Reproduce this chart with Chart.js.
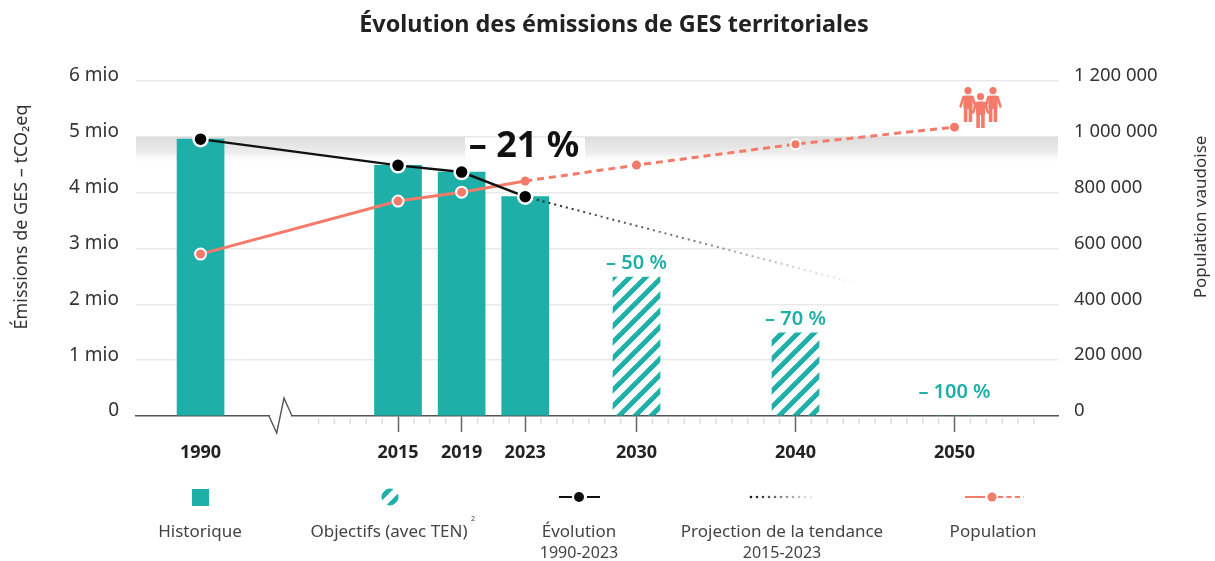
<!DOCTYPE html>
<html><head><meta charset="utf-8">
<style>html,body{margin:0;padding:0;background:#fff}canvas{display:block}</style>
<script src="https://cdn.jsdelivr.net/npm/chart.js@4"></script>
</head><body><canvas id="c" width="1215" height="561"></canvas>
<script>
const chartTitle = "Évolution des émissions de GES territoriales";
const histYears = [1990, 2015, 2019, 2023];
const histValues = [4960000, 4490000, 4370000, 3930000];
const targetYears = [2030, 2040, 2050];
const targetValues = [2490000, 1490000, 0];
const targetLabels = ["– 50 %", "– 70 %", "– 100 %"];
const projYears = [2023, 2043.5];
const projValues = [3930000, 2400000];
const popYears = [1990, 2015, 2019, 2023];
const popValues = [580000, 770000, 802000, 842000];
const popFutureYears = [2023, 2030, 2040, 2050];
const popFutureValues = [842000, 899000, 974000, 1035000];
const labelledYears = [1990, 2015, 2019, 2023, 2030, 2040, 2050];
const minorYears = [2010,2011,2012,2013,2014,2016,2017,2018,2020,2021,2022,2024,2025,2026,2027,2028,2029,2031,2032,2033,2034,2035,2036,2037,2038,2039,2041,2042,2043,2044,2045,2046,2047,2048,2049,2051,2052,2053,2054,2055];
const legendItems = [["Historique"],["Objectifs (avec TEN)"],["Évolution","1990-2023"],["Projection de la tendance","2015-2023"],["Population"]];

const FONT = '"Noto Sans", sans-serif';
const TEAL = '#1fafa9', SALMON = '#f47a69', INK = '#333333';
const BREAK_SHIFT = 12.58;                       // the axis is cut between 1990 and 2010
const pos = y => y < 2000 ? y + BREAK_SHIFT : y;
const unpos = v => v < 2005 ? Math.round(v - BREAK_SHIFT) : v;
const xy = (xs, ys) => xs.map((x, i) => ({x: pos(x), y: ys[i]}));

function hatch(){
  const t = document.createElement('canvas'); t.width = t.height = 16;
  const g = t.getContext('2d'); g.strokeStyle = TEAL; g.lineWidth = 5;
  [[-4,-1,-1,-4],[-2,13,13,-2],[9,18,18,9]].forEach(l=>{g.beginPath();g.moveTo(l[0],l[1]);g.lineTo(l[2],l[3]);g.stroke();});
  return document.getElementById('c').getContext('2d').createPattern(t,'repeat');
}
const hatchFill = hatch();

function person(c, cx, top, s){
  c.save(); c.translate(cx, top); c.scale(s, s);
  c.fillStyle = SALMON; c.strokeStyle = SALMON; c.lineCap = 'round';
  c.beginPath(); c.arc(0, 3.6, 3.6, 0, 7); c.fill();
  c.beginPath(); c.roundRect(-4.6, 8.4, 9.2, 13.5, 2); c.fill();
  c.fillRect(-4.2, 20, 3.6, 15); c.fillRect(0.6, 20, 3.6, 15);
  c.lineWidth = 2.6;
  c.beginPath(); c.moveTo(-4.6, 10); c.lineTo(-7.4, 19.5); c.moveTo(4.6, 10); c.lineTo(7.4, 19.5); c.stroke();
  c.restore();
}
function vText(c, s, x, y, font){
  c.save(); c.translate(x, y); c.rotate(-Math.PI/2);
  c.font = font; c.fillStyle = INK; c.textAlign = 'center'; c.textBaseline = 'middle';
  c.fillText(s, 0, 0); c.restore();
}

const backdrop = {
  id: 'backdrop',
  beforeDatasetsDraw(ch){
    const c = ch.ctx, a = ch.chartArea, y = ch.scales.y, x = ch.scales.x;
    const top = y.getPixelForValue(5000000), bot = y.getPixelForValue(4520000);
    const g = c.createLinearGradient(0, top, 0, bot);
    g.addColorStop(0, '#dcdcdc'); g.addColorStop(0.6,'#eeeeee'); g.addColorStop(1, 'rgba(255,255,255,0)');
    c.save(); c.fillStyle = g;
    c.fillRect(a.left, top, 329, bot-top);
    c.fillRect(585, top, a.right-585, bot-top);
    // minor year ticks
    c.strokeStyle = '#dddddd'; c.lineWidth = 1.5;
    minorYears.forEach(v=>{const p=x.getPixelForValue(v);c.beginPath();c.moveTo(p,a.bottom+2);c.lineTo(p,a.bottom+8);c.stroke();});
    c.restore();
  }
};
const overlay = {
  id: 'overlay',
  afterDatasetsDraw(ch){
    const c = ch.ctx, a = ch.chartArea;
    c.save();
    // axis break
    c.fillStyle='#fff'; c.fillRect(270, a.bottom-1.5, 21, 3);
    c.strokeStyle = '#555'; c.lineWidth = 1.4; c.lineJoin='miter';
    c.beginPath(); c.moveTo(269,a.bottom); c.lineTo(276.7,a.bottom+17); c.lineTo(284,a.bottom-18); c.lineTo(292,a.bottom); c.stroke();
    // headline reduction
    c.fillStyle = '#111'; c.font = 'bold 36px '+FONT; c.textAlign='center'; c.textBaseline='middle';
    c.fillText('– 21 %', 524, 147);
    // target labels
    const m = ch.getDatasetMeta(1);
    c.fillStyle = TEAL; c.font = '600 20px '+FONT;
    m.data.forEach((b,i)=>{ c.fillText(targetLabels[i], b.x, b.y - (targetValues[i] ? 14 : 24)); });
    // population icon
    person(c, 968, 87, 1); person(c, 993, 87, 1); person(c, 980.5, 93, 1);
    // axis titles
    vText(c, 'Émissions de GES – tCO₂eq', 22, 217, '18px '+FONT);
    vText(c, 'Population vaudoise', 1201, 217, '17px '+FONT);
    // legend
    const ly = 497, cols = [200, 389, 579, 782, 993];
    c.fillStyle = TEAL; c.fillRect(192, ly-8, 17, 17);
    c.save(); c.beginPath(); c.arc(390, ly, 8.5, 0, 7); c.clip(); c.translate(4,0); c.fillStyle = hatchFill; c.fillRect(376, ly-10, 20, 20); c.restore();
    c.strokeStyle='#111'; c.lineWidth=2; c.beginPath(); c.moveTo(559,ly); c.lineTo(572,ly); c.moveTo(587,ly); c.lineTo(600,ly); c.stroke();
    c.fillStyle='#111'; c.beginPath(); c.arc(579,ly,5,0,7); c.fill();
    for(let i=0;i<11;i++){ c.fillStyle='rgba(20,20,20,'+(1-i/11).toFixed(2)+')'; c.beginPath(); c.arc(751+i*6,ly,1.3,0,7); c.fill(); }
    c.strokeStyle=SALMON; c.lineWidth=2; c.beginPath(); c.moveTo(965,ly); c.lineTo(985,ly); c.stroke();
    c.setLineDash([5,3.5]); c.beginPath(); c.moveTo(998,ly); c.lineTo(1024,ly); c.stroke(); c.setLineDash([]);
    c.fillStyle=SALMON; c.beginPath(); c.arc(992,ly,4.5,0,7); c.fill();
    c.fillStyle='#444'; c.textBaseline='middle'; c.textAlign='center';
    legendItems.forEach((t,i)=>{
      c.font='17px '+FONT; c.fillText(t[0], cols[i], 532);
      if(t[1]){ c.font='16px '+FONT; c.fillText(t[1], cols[i], 553); }
    });
    c.font='7px '+FONT; c.fillText('2', 473, 519);
    c.restore();
  }
};

new Chart(document.getElementById('c'), {
  data: { datasets: [
    {type:'line', label:'Évolution', data:xy(histYears,histValues), yAxisID:'y', order:1, borderColor:'#111', borderWidth:2.5,
      pointRadius:7, pointHoverRadius:7, pointBackgroundColor:'#000', pointBorderColor:'#fff', pointBorderWidth:2.5, tension:0},
    {type:'bar', label:'Objectifs (avec TEN)', data:xy(targetYears,targetValues), yAxisID:'y', order:5, backgroundColor:hatchFill, barThickness:47},
    {type:'bar', label:'Historique', data:xy(histYears,histValues), yAxisID:'y', order:5, backgroundColor:TEAL, barThickness:47, grouped:false},
    {type:'line', label:'Projection de la tendance', data:xy(projYears,projValues), yAxisID:'y', order:3, borderWidth:2, borderDash:[2,4], pointRadius:0, tension:0,
      borderColor(ctx){
        const ch=ctx.chart, x=ch.scales.x;
        if(!ch.chartArea||!x) return '#333';
        const g=ch.ctx.createLinearGradient(x.getPixelForValue(projYears[0]),0,x.getPixelForValue(projYears[1]),0);
        g.addColorStop(0,'rgba(30,30,30,1)'); g.addColorStop(0.5,'rgba(60,60,60,.7)'); g.addColorStop(1,'rgba(120,120,120,.1)');
        return g;
      }},
    {type:'line', label:'Population (projection)', data:xy(popFutureYears,popFutureValues), yAxisID:'y2', order:2, borderColor:SALMON, borderWidth:3, borderDash:[7,5], tension:0,
      pointRadius:c=>c.dataIndex===0?0:(c.dataIndex===2?5:4.5), pointBackgroundColor:SALMON, pointBorderColor:c=>c.dataIndex===2?'#fff':SALMON, pointBorderWidth:c=>c.dataIndex===2?2:0},
    {type:'line', label:'Population', data:xy(popYears,popValues), yAxisID:'y2', order:2, borderColor:SALMON, borderWidth:3, tension:0,
      pointRadius:c=>c.dataIndex===3?4.5:5.5, pointBackgroundColor:SALMON, pointBorderColor:c=>c.dataIndex===3?SALMON:'#fff', pointBorderWidth:c=>c.dataIndex===3?0:2}
  ]},
  options: {
    responsive:false, animation:false, devicePixelRatio:1,
    layout:{padding:{left:13}},
    plugins:{
      legend:{display:false}, tooltip:{enabled:false},
      title:{display:true, text:chartTitle, color:'#222', font:{family:FONT,size:23.4,weight:'bold'}, padding:{top:11,bottom:42}}
    },
    scales:{
      x:{type:'linear', min:1998.52, max:2056.51, offset:false,
        afterBuildTicks(s){ s.ticks = labelledYears.map(y=>({value:pos(y)})); },
        afterFit(s){ s.height = 145; },
        ticks:{autoSkip:false, maxRotation:0, padding:10, color:'#222', font:{family:FONT,size:18,weight:'bold'}, callback:v=>String(unpos(v))},
        border:{display:true,color:'#555',width:1.5},
        grid:{offset:false, drawOnChartArea:false, drawTicks:true, tickLength:16, tickWidth:1.5, tickColor:c=>c.tick&&c.tick.value<2005?'rgba(0,0,0,0)':'#666'}
      },
      y:{position:'left', min:0, max:6000000,
        afterBuildTicks(s){ s.ticks=[0,1,2,3,4,5,6].map(v=>({value:v*1000000})); },
        afterFit(s){ s.width = 123; },
        ticks:{padding:17, labelOffset:-5, color:INK, font:{family:FONT,size:19}, callback:v=>v===0?'0':(v/1000000)+' mio'},
        border:{display:false},
        grid:{drawTicks:false, lineWidth:1.5, color:c=>c.tick&&c.tick.value===0?'rgba(0,0,0,0)':'#e9e9e9'}
      },
      y2:{position:'right', min:0, max:1200000,
        afterBuildTicks(s){ s.ticks=[0,2,4,6,8,10,12].map(v=>({value:v*100000})); },
        afterFit(s){ s.width = 157; },
        ticks:{padding:16, labelOffset:-5, color:INK, font:{family:FONT,size:18.5}, callback:v=>String(v).replace(/\B(?=(\d{3})+$)/g,' ')},
        border:{display:false},
        grid:{display:false, drawTicks:false}
      }
    }
  },
  plugins:[backdrop, overlay]
});
</script></body></html>
